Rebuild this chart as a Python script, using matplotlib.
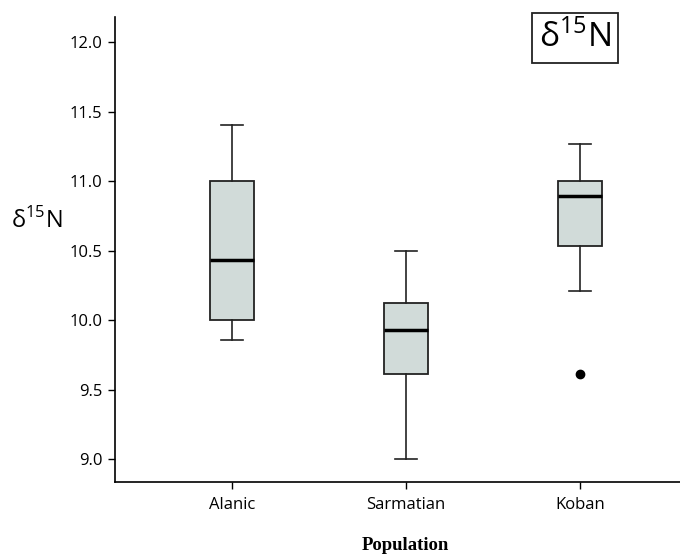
import matplotlib
matplotlib.use('Agg')
import matplotlib.pyplot as plt

plt.rcParams['font.family'] = ['Open Sans', 'DejaVu Sans']
plt.rcParams['mathtext.fontset'] = 'custom'
plt.rcParams['mathtext.rm'] = 'Open Sans'

# box statistics
groups = ['Alanic', 'Sarmatian', 'Koban']
whislo = [9.86, 9.00, 10.21]
q1 = [10.00, 9.61, 10.53]
med = [10.43, 9.93, 10.89]
q3 = [11.00, 10.12, 11.00]
whishi = [11.40, 10.50, 11.27]
fliers = [[], [], [9.61]]

stats = []
for i, g in enumerate(groups):
    stats.append(dict(label=g, whislo=whislo[i], q1=q1[i], med=med[i],
                      q3=q3[i], whishi=whishi[i], fliers=fliers[i]))

fig = plt.figure(figsize=(6.8, 5.55), dpi=100)
ax = fig.add_axes([115 / 680, 1 - 482 / 555, 1 - 115 / 680, (482 - 17) / 555])

ax.bxp(stats, positions=[1, 2, 3], widths=0.25, capwidths=0.125,
       patch_artist=True,
       boxprops=dict(facecolor='#d1dbd9', edgecolor='#222222', linewidth=1.3),
       medianprops=dict(color='black', linewidth=2.5),
       whiskerprops=dict(color='#222222', linewidth=1.2),
       capprops=dict(color='#222222', linewidth=1.2),
       flierprops=dict(marker='o', markerfacecolor='black', markeredgecolor='black',
                       markersize=6))

ax.set_xlim(0.327, 3.575)
ax.set_ylim(8.835, 12.18)
ax.set_yticks([9.0, 9.5, 10.0, 10.5, 11.0, 11.5, 12.0])
ax.set_yticklabels(['9.0', '9.5', '10.0', '10.5', '11.0', '11.5', '12.0'])
ax.set_xticks([1, 2, 3])
ax.set_xticklabels(groups)
ax.tick_params(axis='y', labelsize=12, length=5, width=1, pad=4)
ax.tick_params(axis='x', labelsize=12, length=5, width=1, pad=6)

for s in ['top', 'right']:
    ax.spines[s].set_visible(False)
for s in ['left', 'bottom']:
    ax.spines[s].set_linewidth(1.2)

label = r'δ$^{\mathrm{15}}$N'
fig.text(37 / 680, 1 - 221 / 555, label, fontsize=17, ha='center', va='center')
fig.text(405 / 680, 1 - 546 / 555, 'Population', fontsize=13.5, fontweight='bold',
         family='Liberation Serif', ha='center', va='center')
fig.text(575 / 680, 1 - 38 / 555, label, fontsize=24, ha='center', va='center',
         bbox=dict(boxstyle='square,pad=0.22', facecolor='white', edgecolor='#222222',
                   linewidth=1.3))

fig.savefig('out.png', dpi=100)
